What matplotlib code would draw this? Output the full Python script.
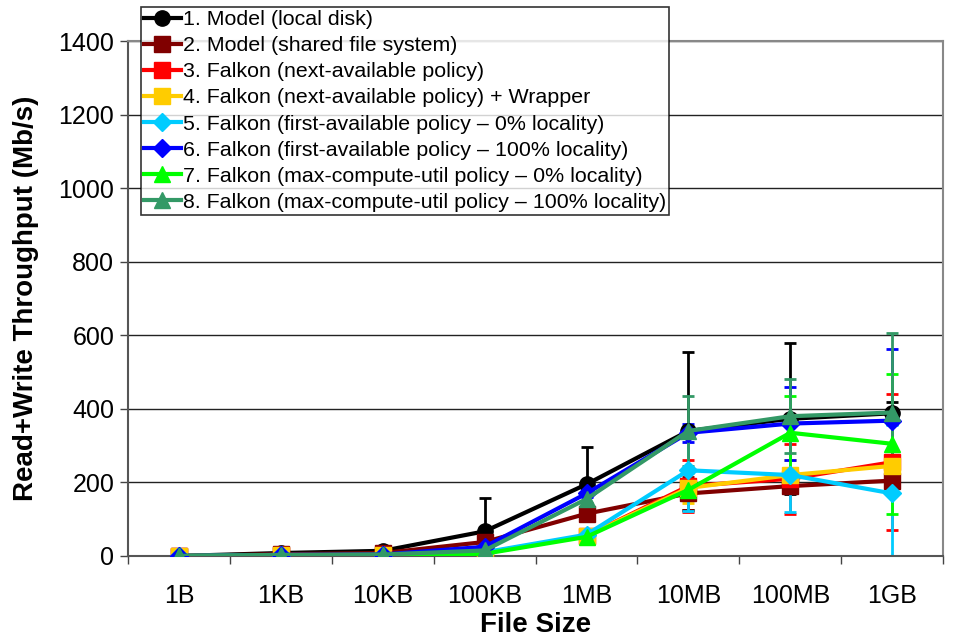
import numpy as np
import matplotlib
matplotlib.use('Agg')
import matplotlib.pyplot as plt

plt.rcParams['font.family'] = ['Liberation Sans', 'DejaVu Sans']

sizes = ['1B', '1KB', '10KB', '100KB', '1MB', '10MB', '100MB', '1GB']

labels = [
    '1. Model (local disk)',
    '2. Model (shared file system)',
    '3. Falkon (next-available policy)',
    '4. Falkon (next-available policy) + Wrapper',
    '5. Falkon (first-available policy \u2013 0% locality)',
    '6. Falkon (first-available policy \u2013 100% locality)',
    '7. Falkon (max-compute-util policy \u2013 0% locality)',
    '8. Falkon (max-compute-util policy \u2013 100% locality)',
]

model_local = [0, 8, 14, 67, 195, 340, 373, 388]
model_shared = [0, 5, 8, 38, 115, 170, 190, 205]
next_avail = [0, 2, 3, 8, 55, 190, 210, 255]
next_wrapper = [0, 2, 3, 8, 55, 185, 220, 245]
first_0 = [0, 2, 3, 10, 58, 233, 220, 170]
first_100 = [0, 3, 4, 25, 170, 335, 360, 368]
maxc_0 = [0, 1, 2, 6, 52, 180, 335, 305]
maxc_100 = [0, 3, 4, 15, 155, 340, 380, 390]

err_local = [0, 15, 5, 90, 100, 215, 205, 30]
err_shared = [0, 0, 0, 5, 10, 45, 20, 10]
err_next = [0, 0, 0, 0, 5, 70, 95, 185]
err_wrapper = [0, 0, 0, 0, 5, 40, 40, 40]
err_first_0 = [0, 0, 0, 0, 5, 110, 100, 185]
err_first_100 = [0, 0, 0, 5, 10, 25, 100, 195]
err_maxc_0 = [0, 0, 0, 0, 5, 20, 100, 190]
err_maxc_100 = [0, 0, 0, 5, 10, 95, 100, 215]

series = [model_local, model_shared, next_avail, next_wrapper,
          first_0, first_100, maxc_0, maxc_100]
errors = [err_local, err_shared, err_next, err_wrapper,
          err_first_0, err_first_100, err_maxc_0, err_maxc_100]
colors = ['#000000', '#800000', '#FF0000', '#FFCC00',
          '#00CCFF', '#0000FF', '#00FF00', '#339966']
markers = ['o', 's', 's', 's', 'D', 'D', '^', '^']
msizes = [11, 11, 11, 11, 9, 9, 11, 11]

fig = plt.figure(figsize=(9.59, 6.42), dpi=100)
ax = fig.add_axes([0.1335, 0.134, 0.85, 0.802])

x = np.arange(len(sizes))
handles = []
for ys, es, c, m, ms, lab in zip(series, errors, colors, markers, msizes, labels):
    ax.errorbar(x, ys, yerr=es, fmt='none', ecolor=c, elinewidth=2,
                capsize=4, capthick=2, zorder=2)
    h, = ax.plot(x, ys, color=c, marker=m, markersize=ms, linewidth=3,
                 label=lab, zorder=3)
    handles.append(h)

ax.set_xlim(-0.5, len(sizes) - 0.5)
ax.set_ylim(0, 1400)
ax.set_yticks(np.arange(0, 1401, 200))
ax.set_xticks(x)
ax.set_xticklabels(sizes)
ax.set_xticks(np.arange(-0.5, len(sizes), 1), minor=True)
ax.tick_params(axis='x', which='major', length=0, pad=20, labelsize=18)
ax.tick_params(axis='x', which='minor', length=6, width=1, color='#444444')
ax.tick_params(axis='y', length=6, width=1, color='#444444', labelsize=18, pad=4)
ax.yaxis.grid(True, color='#222222', linewidth=1)
ax.set_axisbelow(True)
for s in ['left', 'bottom']:
    ax.spines[s].set_color('#555555')
    ax.spines[s].set_linewidth(1.5)
for s in ['top', 'right']:
    ax.spines[s].set_color('#888888')
    ax.spines[s].set_linewidth(1.5)

ax.set_xlabel('File Size', fontsize=20, fontweight='bold', labelpad=3)
ax.set_ylabel('Read+Write Throughput (Mb/s)', fontsize=20, fontweight='bold', labelpad=14)

leg = fig.legend(handles=handles, loc='upper left', bbox_to_anchor=(0.147, 0.989),
                 fontsize=15.4, frameon=True, fancybox=False, edgecolor='black',
                 borderpad=0.15, labelspacing=0.33, handlelength=1.7,
                 handletextpad=0.1, borderaxespad=0)
leg.get_frame().set_linewidth(1.2)

fig.savefig('out.png', dpi=100)
